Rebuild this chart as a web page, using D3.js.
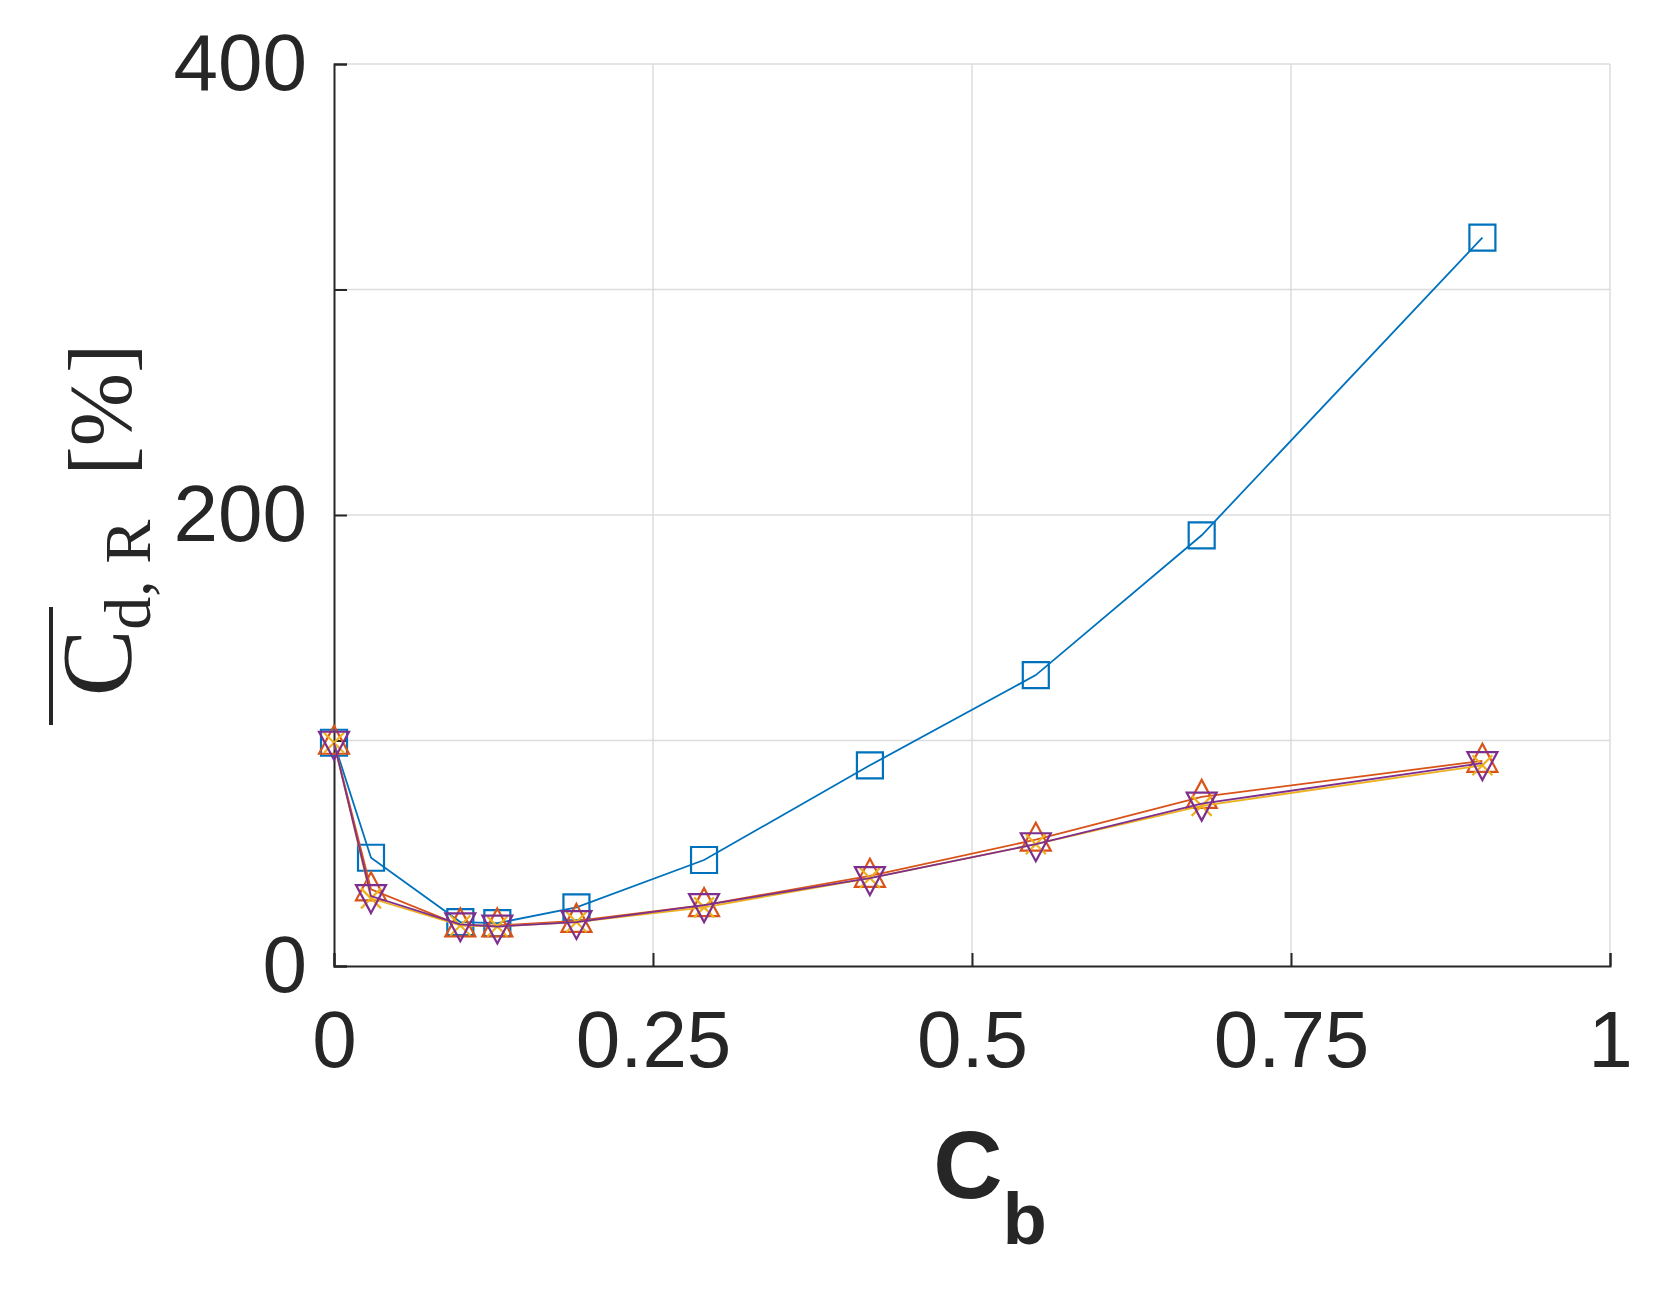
<!DOCTYPE html>
<html><head><meta charset="utf-8">
<script src="https://cdn.jsdelivr.net/npm/d3@7"></script>
<style>body{margin:0;background:#fff}</style>
</head><body>
<svg width="1670" height="1292"></svg>
<script>
var xs = [0, 0.029, 0.099, 0.128, 0.19, 0.29, 0.42, 0.55, 0.68, 0.9];
var blueVals = [99, 48, 19.5, 19, 26, 47, 89, 129, 191, 323];
var redVals = [99, 34, 18, 18, 20, 27, 40, 56, 75, 91];
var yellowVals = [99, 30, 18, 17.5, 19.5, 26, 39, 54, 71, 89];
var purpleVals = [99, 31, 18.5, 17.5, 19.5, 27, 39, 54, 72, 90];
var xTicks = [0, 0.25, 0.5, 0.75, 1];
var xTickLabels = ['0', '0.25', '0.5', '0.75', '1'];
var yTicks = [0, 100, 200, 300, 400];
var yTickLabels = ['0', '', '200', '', '400'];

var svg = d3.select('svg');
var x = d3.scaleLinear().domain([0, 1]).range([334, 1610]);
var y = d3.scaleLinear().domain([0, 400]).range([966, 64]);

// grid
svg.selectAll('.gx').data(xTicks.slice(1)).enter().append('line')
  .attr('x1', d => x(d)).attr('x2', d => x(d)).attr('y1', 64).attr('y2', 966)
  .attr('stroke', '#dcdcdc').attr('stroke-width', 1.5);
svg.selectAll('.gy').data(yTicks.slice(1)).enter().append('line')
  .attr('x1', 334).attr('x2', 1610).attr('y1', d => y(d)).attr('y2', d => y(d))
  .attr('stroke', '#dcdcdc').attr('stroke-width', 1.5);

// axes
var xa = svg.append('g').attr('transform', 'translate(0,966)')
  .call(d3.axisBottom(x).tickValues(xTicks).tickSize(-13).tickPadding(44).tickFormat((d, i) => xTickLabels[i]));
var ya = svg.append('g').attr('transform', 'translate(334,0)')
  .call(d3.axisLeft(y).tickValues(yTicks).tickSize(-13).tickPadding(27).tickFormat((d, i) => yTickLabels[i]));
[xa, ya].forEach(function(a) {
  a.select('.domain').attr('stroke', '#262626').attr('stroke-width', 2);
  a.selectAll('.tick line').attr('stroke', '#262626').attr('stroke-width', 2);
  a.selectAll('text').attr('fill', '#262626').attr('font-family', 'Liberation Sans, Arial, sans-serif').attr('font-size', 80);
});
xa.selectAll('text').attr('dy', '0.71em');

var line = d3.line().x((d, i) => x(xs[i])).y(d => y(d));
function series(vals, color, shape) {
  svg.append('path').datum(vals).attr('d', line).attr('fill', 'none')
    .attr('stroke', color).attr('stroke-width', 1.8);
  var g = svg.append('g');
  vals.forEach(function(v, i) {
    var cx = x(xs[i]), cy = y(v), s = 13;
    var p;
    if (shape === 'square') p = 'M' + (cx - s) + ',' + (cy - s) + 'h' + 2 * s + 'v' + 2 * s + 'h' + -2 * s + 'Z';
    else if (shape === 'up') p = 'M' + cx + ',' + (cy - 17) + 'L' + (cx + 15) + ',' + (cy + 11) + 'L' + (cx - 15) + ',' + (cy + 11) + 'Z';
    else if (shape === 'down') p = 'M' + cx + ',' + (cy + 17) + 'L' + (cx + 15) + ',' + (cy - 11) + 'L' + (cx - 15) + ',' + (cy - 11) + 'Z';
    else p = 'M' + (cx - 10) + ',' + (cy - 10) + 'L' + (cx + 10) + ',' + (cy + 10) + 'M' + (cx + 10) + ',' + (cy - 10) + 'L' + (cx - 10) + ',' + (cy + 10);
    g.append('path').attr('d', p).attr('fill', 'none').attr('stroke', color).attr('stroke-width', 2.2);
  });
}
series(blueVals, '#0072BD', 'square');
series(redVals, '#D95319', 'up');
series(yellowVals, '#EDB120', 'x');
series(purpleVals, '#7E2F8E', 'down');

// x label
var xl = svg.append('text').attr('x', 990).attr('y', 1198).attr('fill', '#262626')
  .attr('font-family', 'Liberation Sans, Arial, sans-serif').attr('font-weight', 'bold').attr('font-size', 96)
  .attr('text-anchor', 'middle');
xl.append('tspan').text('C');
xl.append('tspan').attr('font-size', 72).attr('dy', 46).text('b');

// y label (rotated)
var yl = svg.append('text').attr('transform', 'translate(130,520) rotate(-90)')
  .attr('text-anchor', 'middle').attr('fill', '#262626')
  .attr('font-family', 'Liberation Serif, DejaVu Serif, serif').attr('font-size', 90);
yl.append('tspan').attr('font-size', 100).text('C');
yl.append('tspan').attr('font-size', 66).attr('dy', 20).text('d, R');
yl.append('tspan').attr('dy', -20).attr('font-size', 88).text('\u00a0 [%]');
svg.append('line').attr('x1', 51).attr('x2', 51).attr('y1', 607).attr('y2', 725)
  .attr('stroke', '#262626').attr('stroke-width', 4);
</script>
</body></html>
